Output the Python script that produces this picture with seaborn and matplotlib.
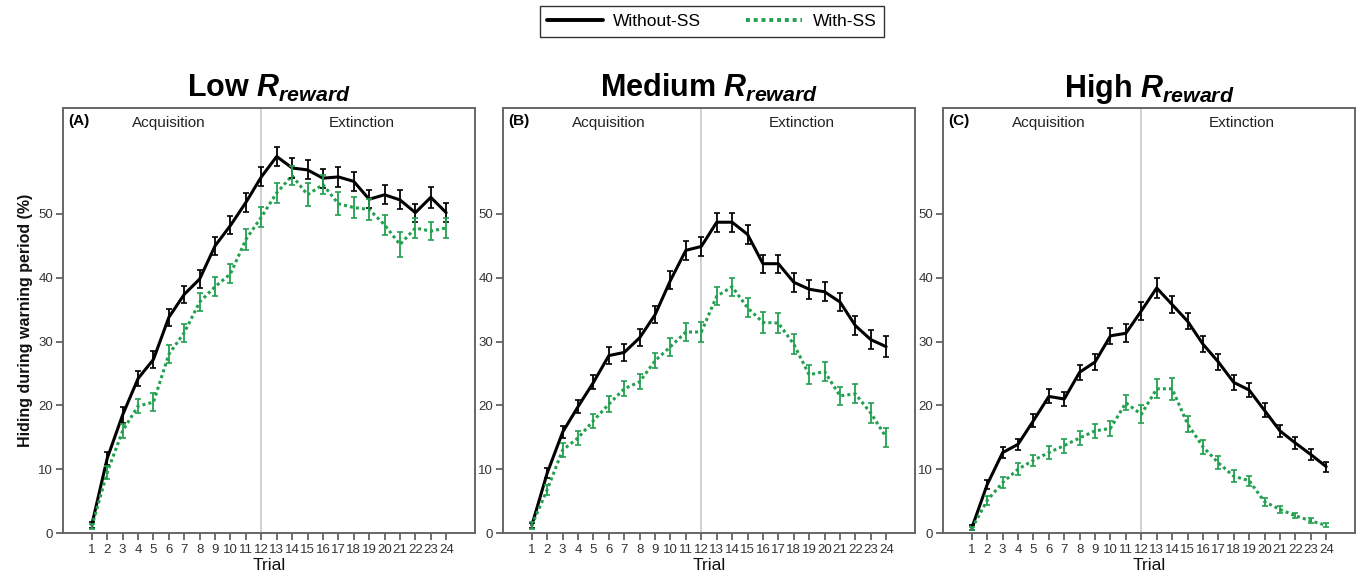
import pandas as pd
import matplotlib
matplotlib.use("Agg")
import matplotlib.pyplot as plt
import seaborn as sns

trials = list(range(1, 25))

# panel A: low reward
low_without = [1.3, 11.7, 18.5, 24.2, 27.2, 33.8, 37.4, 39.8, 45.0, 48.2, 51.8, 55.8,
               59.0, 57.2, 56.9, 55.6, 55.8, 55.1, 52.3, 53.0, 52.2, 50.2, 52.6, 50.2]
low_without_err = [0.5, 1.0, 1.2, 1.2, 1.3, 1.3, 1.3, 1.4, 1.4, 1.4, 1.5, 1.5,
                   1.5, 1.5, 1.5, 1.5, 1.6, 1.5, 1.4, 1.5, 1.5, 1.4, 1.6, 1.5]
low_with = [1.0, 9.5, 16.0, 19.9, 20.5, 28.0, 31.4, 36.2, 38.6, 40.6, 46.0, 49.5,
            53.3, 56.0, 53.0, 54.6, 51.6, 51.0, 50.7, 48.3, 45.2, 47.8, 47.3, 47.8]
low_with_err = [0.4, 1.0, 1.1, 1.1, 1.4, 1.4, 1.4, 1.4, 1.5, 1.5, 1.6, 1.6,
                1.6, 1.5, 1.8, 1.5, 1.8, 1.6, 1.6, 1.6, 2.0, 1.6, 1.4, 1.6]

# panel B: medium reward
med_without = [1.2, 9.4, 15.8, 19.8, 23.6, 27.8, 28.3, 30.6, 34.2, 39.6, 44.3, 44.9,
               48.7, 48.7, 46.8, 42.2, 42.2, 39.3, 38.2, 37.8, 36.2, 32.5, 30.3, 29.2]
med_without_err = [0.4, 0.8, 0.9, 1.0, 1.1, 1.3, 1.3, 1.3, 1.3, 1.4, 1.5, 1.5,
                   1.5, 1.5, 1.5, 1.4, 1.4, 1.5, 1.5, 1.5, 1.4, 1.5, 1.5, 1.6]
med_with = [1.2, 6.8, 13.0, 14.9, 17.6, 20.2, 22.6, 23.7, 27.0, 29.2, 31.5, 31.5,
            37.1, 38.6, 35.3, 33.0, 32.9, 29.6, 24.8, 25.3, 21.5, 21.8, 18.8, 15.0]
med_with_err = [0.5, 0.8, 1.1, 1.1, 1.1, 1.2, 1.2, 1.2, 1.2, 1.4, 1.4, 1.6,
                1.4, 1.4, 1.5, 1.6, 1.6, 1.6, 1.5, 1.5, 1.4, 1.5, 1.5, 1.5]

# panel C: high reward
high_without = [0.8, 7.6, 12.6, 13.9, 17.6, 21.4, 21.0, 25.2, 26.8, 30.9, 31.3, 34.8,
                38.4, 35.8, 33.2, 29.6, 26.8, 23.6, 22.4, 19.2, 16.0, 14.1, 12.3, 10.4]
high_without_err = [0.4, 0.7, 0.8, 0.9, 1.0, 1.1, 1.1, 1.2, 1.2, 1.3, 1.4, 1.4,
                    1.5, 1.3, 1.3, 1.2, 1.3, 1.2, 1.1, 1.1, 1.0, 1.0, 0.9, 0.8]
high_with = [0.7, 5.1, 7.9, 10.0, 11.4, 12.6, 13.7, 14.9, 16.0, 16.4, 20.4, 18.6,
             22.6, 22.6, 17.1, 13.5, 11.0, 8.9, 8.2, 4.9, 3.7, 2.7, 1.9, 1.2]
high_with_err = [0.3, 0.7, 0.8, 0.9, 0.9, 1.0, 1.1, 1.1, 1.1, 1.2, 1.2, 1.4,
                 1.5, 1.7, 1.3, 1.1, 1.0, 0.9, 0.8, 0.6, 0.5, 0.4, 0.4, 0.3]

panels = [
    ("(A)", "Low", low_without, low_without_err, low_with, low_with_err),
    ("(B)", "Medium", med_without, med_without_err, med_with, med_with_err),
    ("(C)", "High", high_without, high_without_err, high_with, high_with_err),
]

groups = ["Without-SS", "With-SS"]
colors = {"Without-SS": "#000000", "With-SS": "#22a04f"}

sns.set_style("white")
plt.rcParams["font.family"] = ["Liberation Sans", "DejaVu Sans"]
plt.rcParams["mathtext.fontset"] = "custom"
plt.rcParams["mathtext.it"] = "Liberation Sans:italic:bold"
plt.rcParams["mathtext.rm"] = "Liberation Sans:bold"
plt.rcParams["text.color"] = "#000000"

fig = plt.figure(figsize=(13.61, 5.83), dpi=100)
lefts = [63 / 1361, 503 / 1361, 943 / 1361]
ax_w = 412 / 1361
ax_b = 1 - 533 / 583
ax_h = 425 / 583

for i, (tag, level, wo, wo_err, wi, wi_err) in enumerate(panels):
    ax = fig.add_axes([lefts[i], ax_b, ax_w, ax_h])
    df = pd.DataFrame({
        "Trial": trials * 2,
        "value": wo + wi,
        "err": wo_err + wi_err,
        "group": ["Without-SS"] * 24 + ["With-SS"] * 24,
    })
    ax.axvline(12, color="#c8c8c8", lw=1.2, zorder=0)
    sns.lineplot(data=df, x="Trial", y="value", hue="group", style="group",
                 hue_order=groups, style_order=groups, palette=colors,
                 dashes={"Without-SS": "", "With-SS": (1, 1)},
                 linewidth=2.2, ax=ax, legend=(i == 0))
    for g in groups:
        sub = df[df["group"] == g]
        ax.errorbar(sub["Trial"], sub["value"], yerr=sub["err"], fmt="none",
                    ecolor=colors[g], elinewidth=1.3, capsize=2.5, capthick=1.2)

    ax.set_xlim(-0.87, 25.87)
    ax.set_ylim(0, 66.6)
    ax.set_xticks(trials)
    ax.set_xticklabels([str(t) for t in trials])
    ax.set_yticks([0, 10, 20, 30, 40, 50])
    ax.tick_params(axis="both", direction="out", length=5, width=1.2,
                   bottom=True, left=True,
                   colors="#555555", labelcolor="#333333", labelsize=9.5, pad=2)
    ax.tick_params(axis="x", pad=3)
    for sp in ax.spines.values():
        sp.set_color("#666666")
        sp.set_linewidth(1.4)
    ax.set_xlabel("Trial", fontsize=12.5, labelpad=1, color="#111111")
    if i == 0:
        ax.set_ylabel("Hiding during warning period (%)", fontsize=11.5,
                      fontweight="bold", labelpad=4, color="#111111")
    else:
        ax.set_ylabel("")
    ax.text(0.012, 0.985, tag, transform=ax.transAxes, fontsize=11,
            fontweight="bold", va="top", ha="left")
    ax.text(6.0, 64.2, "Acquisition", fontsize=11, ha="center", va="center",
            color="#222222")
    ax.text(18.5, 64.2, "Extinction", fontsize=11, ha="center", va="center",
            color="#222222")
    ax.set_title(level + r" $\mathit{R}_{\mathit{reward}}$", fontsize=22,
                 fontweight="bold", pad=8, color="#000000")

    if i == 0:
        handles, labels = ax.get_legend_handles_labels()
        ax.get_legend().remove()

for h in handles:
    h.set_linewidth(2.8)
leg = fig.legend(handles, labels, loc="upper center", ncol=2,
                 bbox_to_anchor=(0.523, 1.005), fontsize=12.5, frameon=True,
                 fancybox=False, edgecolor="#000000", handlelength=3.2,
                 columnspacing=2.6, borderpad=0.45, handletextpad=0.6)
leg.get_frame().set_linewidth(1.0)

fig.savefig("out.png", dpi=100)
